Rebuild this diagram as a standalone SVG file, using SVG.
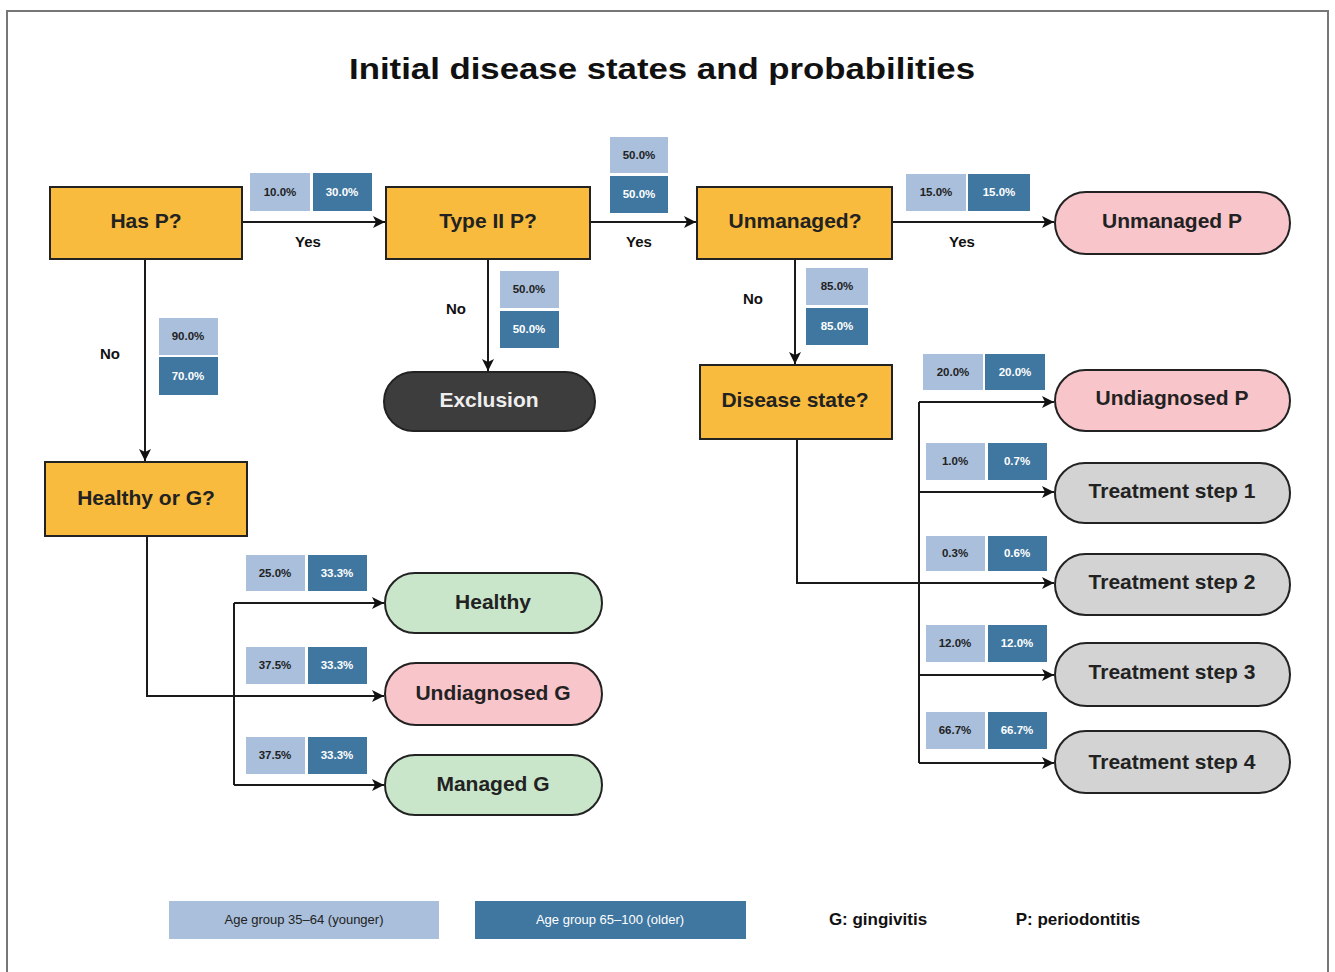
<svg xmlns="http://www.w3.org/2000/svg" width="1335" height="972" viewBox="0 0 1335 972">
<defs>
<marker id="arr" markerWidth="14" markerHeight="14" refX="13" refY="7" orient="auto" markerUnits="userSpaceOnUse">
<path d="M1,1 L13,7 L1,13 L4,7 z" fill="#111"/>
</marker>
<style>
.dec{fill:#F8BB3D;stroke:#222;stroke-width:2}
.pink{fill:#F8C5CB;stroke:#222;stroke-width:2}
.green{fill:#C9E6CB;stroke:#222;stroke-width:2}
.gray{fill:#D3D3D3;stroke:#222;stroke-width:2}
.dark{fill:#3D3D3D;stroke:#222;stroke-width:2}
.nt{font-family:"Liberation Sans",Arial,sans-serif;font-weight:bold;font-size:21px;fill:#222;text-anchor:middle}
.lb{fill:#A9BFDB}
.db{fill:#3F77A1}
.pt{font-family:"Liberation Sans",Arial,sans-serif;font-weight:bold;font-size:11.5px;text-anchor:middle}
.pl{fill:#222}
.pd{fill:#fff}
.yn{font-family:"Liberation Sans",Arial,sans-serif;font-weight:900;font-size:15px;fill:#111;text-anchor:middle}
.con{fill:none;stroke:#1a1a1a;stroke-width:2}
</style>
</defs>
<rect x="7" y="11" width="1321" height="975" fill="#fff" stroke="#777" stroke-width="2"/>
<text x="662" y="79" font-family="Liberation Sans,Arial,sans-serif" font-weight="bold" font-size="30" fill="#111" text-anchor="middle" textLength="626" lengthAdjust="spacingAndGlyphs">Initial disease states and probabilities</text>

<g id="connectors">
<path class="con" d="M242,222 H385" marker-end="url(#arr)"/>
<path class="con" d="M590,222 H696" marker-end="url(#arr)"/>
<path class="con" d="M892,222 H1054" marker-end="url(#arr)"/>
<path class="con" d="M145,259 V461" marker-end="url(#arr)"/>
<path class="con" d="M488,259 V371" marker-end="url(#arr)"/>
<path class="con" d="M795,259 V364" marker-end="url(#arr)"/>
<path class="con" d="M147,536 V696 H384" marker-end="url(#arr)"/>
<path class="con" d="M234,603 V785"/>
<path class="con" d="M234,603 H384" marker-end="url(#arr)"/>
<path class="con" d="M234,785 H384" marker-end="url(#arr)"/>
<path class="con" d="M797,439 V583 H1054" marker-end="url(#arr)"/>
<path class="con" d="M919,402 V763"/>
<path class="con" d="M919,402 H1054" marker-end="url(#arr)"/>
<path class="con" d="M919,492 H1054" marker-end="url(#arr)"/>
<path class="con" d="M919,675 H1054" marker-end="url(#arr)"/>
<path class="con" d="M919,763 H1054" marker-end="url(#arr)"/>
<text class="yn" x="308" y="247">Yes</text>
<text class="yn" x="639" y="247">Yes</text>
<text class="yn" x="962" y="247">Yes</text>
<text class="yn" x="110" y="359">No</text>
<text class="yn" x="456" y="314">No</text>
<text class="yn" x="753" y="304">No</text>
</g>

<g id="probabilities">
<rect class="lb" x="250" y="173" width="60" height="38"/><text class="pt pl" x="280" y="196">10.0%</text>
<rect class="db" x="313" y="173" width="59" height="38"/><text class="pt pd" x="342" y="196">30.0%</text>
<rect class="lb" x="610" y="137" width="58" height="36"/><text class="pt pl" x="639" y="159">50.0%</text>
<rect class="db" x="610" y="176" width="58" height="37"/><text class="pt pd" x="639" y="198">50.0%</text>
<rect class="lb" x="906" y="174" width="60" height="37"/><text class="pt pl" x="936" y="196">15.0%</text>
<rect class="db" x="968" y="174" width="62" height="37"/><text class="pt pd" x="999" y="196">15.0%</text>
<rect class="lb" x="159" y="318" width="59" height="37"/><text class="pt pl" x="188" y="340">90.0%</text>
<rect class="db" x="159" y="357" width="59" height="38"/><text class="pt pd" x="188" y="380">70.0%</text>
<rect class="lb" x="500" y="271" width="59" height="37"/><text class="pt pl" x="529" y="293">50.0%</text>
<rect class="db" x="500" y="311" width="59" height="37"/><text class="pt pd" x="529" y="333">50.0%</text>
<rect class="lb" x="806" y="268" width="62" height="37"/><text class="pt pl" x="837" y="290">85.0%</text>
<rect class="db" x="806" y="308" width="62" height="37"/><text class="pt pd" x="837" y="330">85.0%</text>
<rect class="lb" x="923" y="354" width="60" height="36"/><text class="pt pl" x="953" y="376">20.0%</text>
<rect class="db" x="985" y="354" width="60" height="36"/><text class="pt pd" x="1015" y="376">20.0%</text>
<rect class="lb" x="926" y="443" width="59" height="37"/><text class="pt pl" x="955" y="465">1.0%</text>
<rect class="db" x="988" y="443" width="59" height="37"/><text class="pt pd" x="1017" y="465">0.7%</text>
<rect class="lb" x="926" y="536" width="59" height="35"/><text class="pt pl" x="955" y="557">0.3%</text>
<rect class="db" x="988" y="536" width="59" height="35"/><text class="pt pd" x="1017" y="557">0.6%</text>
<rect class="lb" x="926" y="625" width="59" height="37"/><text class="pt pl" x="955" y="647">12.0%</text>
<rect class="db" x="988" y="625" width="59" height="37"/><text class="pt pd" x="1017" y="647">12.0%</text>
<rect class="lb" x="926" y="712" width="59" height="37"/><text class="pt pl" x="955" y="734">66.7%</text>
<rect class="db" x="988" y="712" width="59" height="37"/><text class="pt pd" x="1017" y="734">66.7%</text>
<rect class="lb" x="246" y="555" width="59" height="36"/><text class="pt pl" x="275" y="577">25.0%</text>
<rect class="db" x="308" y="555" width="59" height="36"/><text class="pt pd" x="337" y="577">33.3%</text>
<rect class="lb" x="246" y="647" width="59" height="37"/><text class="pt pl" x="275" y="669">37.5%</text>
<rect class="db" x="308" y="647" width="59" height="37"/><text class="pt pd" x="337" y="669">33.3%</text>
<rect class="lb" x="246" y="737" width="59" height="37"/><text class="pt pl" x="275" y="759">37.5%</text>
<rect class="db" x="308" y="737" width="59" height="37"/><text class="pt pd" x="337" y="759">33.3%</text>
</g>

<g id="has-p"><rect class="dec" x="50" y="187" width="192" height="72"/><text class="nt" x="146" y="228">Has P?</text></g>
<g id="type2-p"><rect class="dec" x="386" y="187" width="204" height="72"/><text class="nt" x="488" y="228">Type II P?</text></g>
<g id="unmanaged-q"><rect class="dec" x="697" y="187" width="195" height="72"/><text class="nt" x="795" y="228">Unmanaged?</text></g>
<g id="unmanaged-p"><rect class="pink" x="1055" y="192" width="235" height="62" rx="31"/><text class="nt" x="1172" y="228">Unmanaged P</text></g>
<g id="exclusion"><rect class="dark" x="384" y="372" width="211" height="59" rx="29.5"/><text class="nt" x="489" y="407" style="fill:#eee">Exclusion</text></g>
<g id="disease-state"><rect class="dec" x="700" y="365" width="192" height="74"/><text class="nt" x="795" y="407">Disease state?</text></g>
<g id="healthy-or-g"><rect class="dec" x="45" y="462" width="202" height="74"/><text class="nt" x="146" y="505">Healthy or G?</text></g>
<g id="undiagnosed-p"><rect class="pink" x="1055" y="370" width="235" height="61" rx="30.5"/><text class="nt" x="1172" y="405">Undiagnosed P</text></g>
<g id="treatment-1"><rect class="gray" x="1055" y="463" width="235" height="60" rx="30"/><text class="nt" x="1172" y="498">Treatment step 1</text></g>
<g id="treatment-2"><rect class="gray" x="1055" y="554" width="235" height="61" rx="30.5"/><text class="nt" x="1172" y="589">Treatment step 2</text></g>
<g id="treatment-3"><rect class="gray" x="1055" y="643" width="235" height="63" rx="31.5"/><text class="nt" x="1172" y="679">Treatment step 3</text></g>
<g id="treatment-4"><rect class="gray" x="1055" y="731" width="235" height="62" rx="31"/><text class="nt" x="1172" y="769">Treatment step 4</text></g>
<g id="healthy"><rect class="green" x="385" y="573" width="217" height="60" rx="30"/><text class="nt" x="493" y="609">Healthy</text></g>
<g id="undiagnosed-g"><rect class="pink" x="385" y="663" width="217" height="62" rx="31"/><text class="nt" x="493" y="700">Undiagnosed G</text></g>
<g id="managed-g"><rect class="green" x="385" y="755" width="217" height="60" rx="30"/><text class="nt" x="493" y="791">Managed G</text></g>

<g id="legend">
<rect class="lb" x="169" y="901" width="270" height="38"/>
<text class="pt pl" x="304" y="924" style="font-weight:normal;font-size:13px">Age group 35–64 (younger)</text>
<rect class="db" x="475" y="901" width="271" height="38"/>
<text class="pt pd" x="610" y="924" style="font-weight:normal;font-size:13px">Age group 65–100 (older)</text>
<text class="yn" x="878" y="925" style="font-size:17px">G: gingivitis</text>
<text class="yn" x="1078" y="925" style="font-size:17px">P: periodontitis</text>
</g>
</svg>
